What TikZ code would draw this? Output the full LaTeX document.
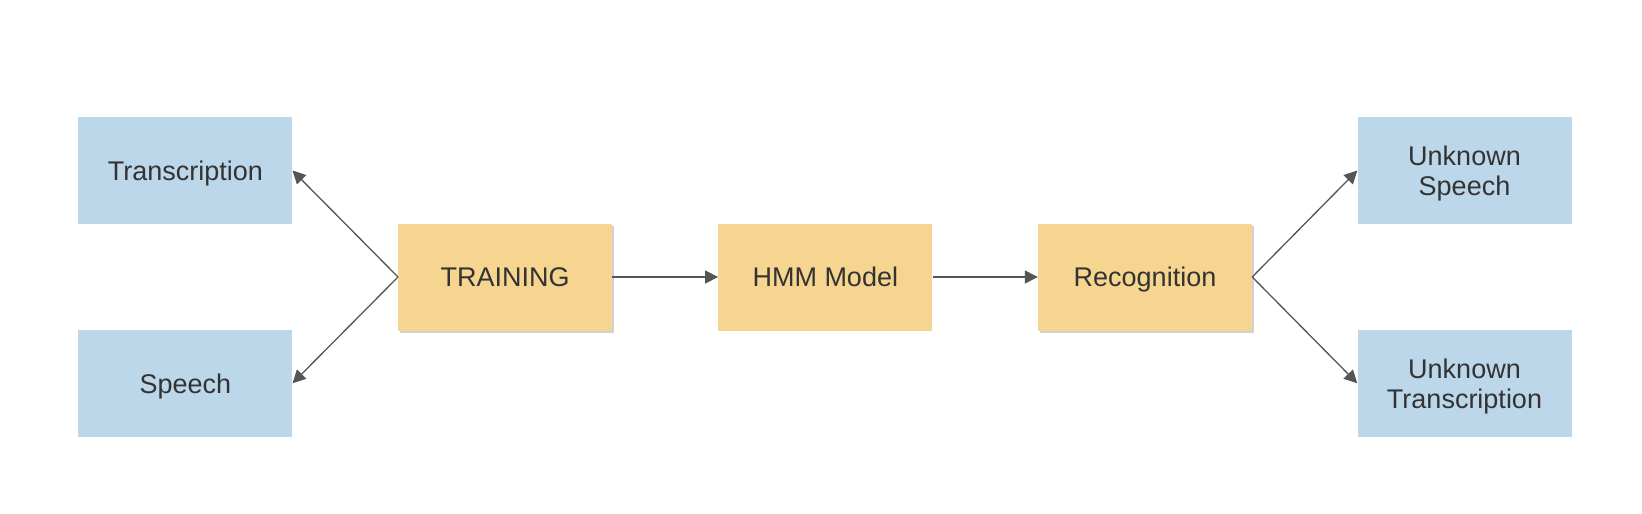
\documentclass[tikz,border=0pt]{standalone}
\usepackage{fontspec}
\setmainfont{Liberation Sans}
\usetikzlibrary{arrows.meta,shadows}
\definecolor{boxblue}{RGB}{188,215,234}
\definecolor{boxorange}{RGB}{245,213,144}
\definecolor{txt}{RGB}{51,51,51}
\definecolor{arr}{RGB}{85,85,85}
\begin{document}
\begin{tikzpicture}[x=1pt,y=-1pt,
  base/.style={minimum width=214pt,minimum height=107pt,inner sep=0pt,text=txt,align=center,
    font=\fontsize{27}{30}\selectfont,text height=19.4pt,text depth=0pt},
  twoline/.style={text height=49.4pt,text depth=0pt},
  bluebox/.style={base,fill=boxblue},
  orangebox/.style={base,fill=boxorange},
  shadowed/.style={drop shadow={shadow xshift=2pt,shadow yshift=-2pt,opacity=0.18,fill=black}},
  conn/.style={draw=arr,line width=1.3pt,-{Triangle[length=13pt,width=13pt]}}]
\useasboundingbox[fill=white] (0,0) rectangle (1642,514);
\node[bluebox] (trans) at (185.3,170.5) {Transcription};
\node[bluebox] (speech) at (185.3,383.3) {Speech};
\node[orangebox,shadowed] (train) at (505.2,277) {TRAINING};
\node[orangebox] (hmm) at (825.3,277) {HMM Model};
\node[orangebox,shadowed] (recog) at (1145,277) {Recognition};
\node[bluebox,twoline] (us) at (1464.5,170.5) {Unknown\\Speech};
\node[bluebox,twoline] (ut) at (1464.5,383.3) {Unknown\\Transcription};
\draw[conn] (train.west) -- (trans.east);
\draw[conn] (train.west) -- (speech.east);
\draw[conn] (train.east) -- (hmm.west);
\draw[conn] (hmm.east) -- (recog.west);
\draw[conn] (recog.east) -- (us.west);
\draw[conn] (recog.east) -- (ut.west);
\end{tikzpicture}
\end{document}
